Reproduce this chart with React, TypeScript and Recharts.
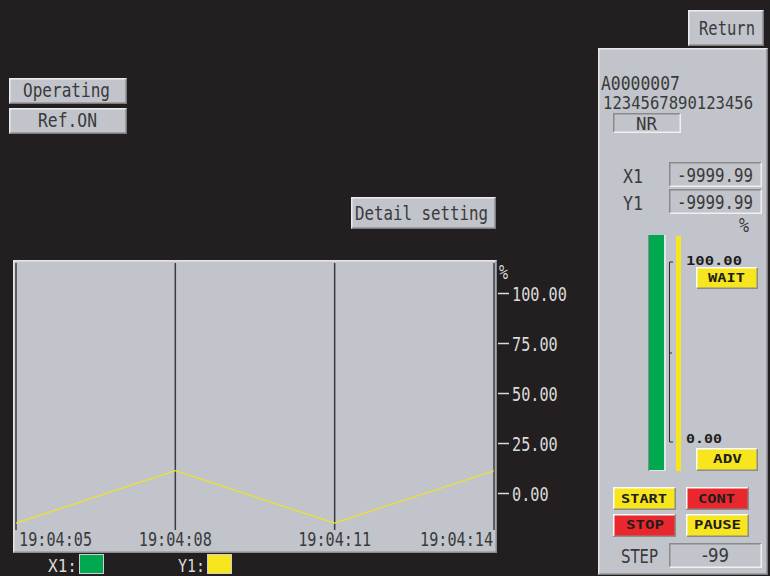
import React from 'react';
import { LineChart, Line, XAxis, YAxis, CartesianGrid } from 'recharts';

// trend data (seconds after 19:04:00)
const seconds = [5, 8, 11, 14];
const timeLabels = ['19:04:05', '19:04:08', '19:04:11', '19:04:14'];
const y1Values = [-14.8, 11.4, -14.8, 11.4];
const yTicks = [0, 25, 50, 75, 100];
const yTickLabels = ['0.00', '25.00', '50.00', '75.00', '100.00'];

const data = seconds.map((s, i) => ({ s, y1: y1Values[i] }));

const MONO = '"DejaVu Sans Mono", monospace';
const SANS = '"DejaVu Sans", sans-serif';
const BG = '#231f20';
const PANEL = '#c1c4cb';
const INK = '#3a3a3a';
const LIGHT = '#dadada';
const GREEN = '#00a84f';
const YELLOW = '#f7e51e';
const RED = '#e8282c';

function Txt({ x, y, w, size = 20, anchor = 'start', fill = INK, bold = false, family = MONO, children }: any) {
  return (
    <text
      x={x}
      y={y}
      fontSize={size}
      fontFamily={family}
      fontWeight={bold ? 700 : 400}
      fill={fill}
      textAnchor={anchor}
      textLength={w}
      lengthAdjust="spacingAndGlyphs"
    >
      {children}
    </text>
  );
}

function Raised({ x, y, w, h, fill = PANEL, hi = '#ececec', lo = '#7c7c7c' }: any) {
  return (
    <g>
      <rect x={x} y={y} width={w} height={h} fill={fill} />
      <path d={`M${x + 0.75} ${y + h - 0.75} V${y + 0.75} H${x + w - 0.75}`} stroke={hi} strokeWidth={1.5} fill="none" />
      <path d={`M${x + w - 0.75} ${y + 0.75} V${y + h - 0.75} H${x + 0.75}`} stroke={lo} strokeWidth={1.5} fill="none" />
    </g>
  );
}

function Sunken({ x, y, w, h, fill = PANEL }: any) {
  return <Raised x={x} y={y} w={w} h={h} fill={fill} hi="#8a8a8a" lo="#f0f0f0" />;
}

function TimeTick(props: any) {
  const { x, y, payload } = props;
  const i = seconds.indexOf(payload.value);
  const anchor = i === 0 ? 'start' : i === seconds.length - 1 ? 'end' : 'middle';
  const tx = i === 0 ? x + 3 : i === seconds.length - 1 ? x - 1 : x;
  return (
    <g>
      <line x1={x} x2={x} y1={y} y2={y + 3} stroke="#3c3c3c" strokeWidth={1.5} />
      <Txt x={tx} y={y + 19} w={73} anchor={anchor}>{timeLabels[i]}</Txt>
    </g>
  );
}

function PctTick(props: any) {
  const { x, y, payload } = props;
  const label = yTickLabels[yTicks.indexOf(payload.value)];
  return (
    <g>
      <line x1={x + 4} x2={x + 15} y1={y} y2={y} stroke={LIGHT} strokeWidth={1.5} />
      <Txt x={x + 18} y={y + 7.5} w={label.length * 9.15} fill={LIGHT}>{label}</Txt>
    </g>
  );
}

function Screen() {
  return (
    <svg width={770} height={576} style={{ position: 'absolute', left: 0, top: 0 }}>
      <rect x={0} y={0} width={770} height={576} fill={BG} />

      {/* top-left status buttons */}
      <Raised x={9} y={78} w={118} h={26} />
      <Txt x={23} y={97} w={87}>Operating</Txt>
      <Raised x={9} y={108} w={118} h={26} />
      <Txt x={38} y={127} w={59}>Ref.ON</Txt>

      <Raised x={351} y={197} w={145} h={32} />
      <Txt x={355} y={220} w={133}>Detail setting</Txt>

      <Raised x={688} y={10} w={76} h={36} />
      <Txt x={699} y={35} w={56}>Return</Txt>

      {/* trend panel */}
      <Raised x={13} y={260} w={484} h={293} hi="#e6e6e6" lo="#8c8c8c" />
      <Txt x={499} y={279} w={9} fill={LIGHT}>%</Txt>

      {/* legend */}
      <Txt x={48} y={572} w={29} size={18} fill={LIGHT}>X1:</Txt>
      <rect x={79.5} y={554.5} width={24} height={19} fill={GREEN} stroke="#cfcfcf" />
      <Txt x={178} y={572} w={27} size={18} fill={LIGHT}>Y1:</Txt>
      <rect x={207.5} y={554.5} width={24} height={19} fill={YELLOW} stroke="#cfcfcf" />

      {/* right panel */}
      <Raised x={598} y={48} w={170} h={527} hi="#e6e6e6" lo="#7c7c7c" />
      <Txt x={601} y={90} w={79} size={19}>A0000007</Txt>
      <Txt x={603} y={108.5} w={150} size={18}>1234567890123456</Txt>
      <Sunken x={613} y={113} w={68} h={20} />
      <Txt x={636} y={130} w={21} size={18}>NR</Txt>

      <Txt x={623} y={183} w={20}>X1</Txt>
      <Sunken x={669} y={162} w={93} h={25} />
      <Txt x={677} y={182} w={76} size={19}>-9999.99</Txt>
      <Txt x={623} y={210} w={20}>Y1</Txt>
      <Sunken x={669} y={189} w={93} h={25} />
      <Txt x={677} y={209} w={76} size={19}>-9999.99</Txt>
      <Txt x={739} y={232} w={10}>%</Txt>

      {/* bar meters */}
      <rect x={648} y={235} width={18} height={236} fill="#e4e4e4" />
      <rect x={648} y={235} width={16} height={235} fill={GREEN} />
      <rect x={648} y={235} width={1} height={236} fill="#8a8a8a" />
      <rect x={676} y={236} width={5} height={235} fill={YELLOW} />
      <path d="M673 262 H669.5 V442 H673 M669.5 353 H672" stroke="#2a2a2a" strokeWidth={1} fill="none" />
      <Txt x={686} y={265} w={56} size={12.5} bold fill="#1e1e1e">100.00</Txt>
      <Txt x={686} y={443} w={36} size={12.5} bold fill="#1e1e1e">0.00</Txt>

      <Raised x={696} y={267} w={62} h={22} fill={YELLOW} hi="#fbfbfb" lo="#8c8c8c" />
      <Txt x={708} y={282} w={37} size={12.5} bold fill="#1e1e1e">WAIT</Txt>
      <Raised x={696} y={448} w={62} h={23} fill={YELLOW} hi="#fbfbfb" lo="#8c8c8c" />
      <Txt x={713} y={463} w={29} size={12.5} bold fill="#1e1e1e">ADV</Txt>

      <Raised x={613} y={487} w={63} h={23} fill={YELLOW} hi="#fbfbfb" lo="#8c8c8c" />
      <Txt x={621} y={503} w={46} size={12.5} bold fill="#1e1e1e">START</Txt>
      <Raised x={686} y={487} w={63} h={23} fill={RED} hi="#fbfbfb" lo="#8c8c8c" />
      <Txt x={698} y={503} w={37} size={12.5} bold fill="#1e1e1e">CONT</Txt>
      <Raised x={613} y={514} w={63} h={23} fill={RED} hi="#fbfbfb" lo="#8c8c8c" />
      <Txt x={626} y={529} w={38} size={12.5} bold fill="#1e1e1e">STOP</Txt>
      <Raised x={686} y={514} w={63} h={23} fill={YELLOW} hi="#fbfbfb" lo="#8c8c8c" />
      <Txt x={694} y={529} w={47} size={12.5} bold fill="#1e1e1e">PAUSE</Txt>

      <Txt x={621} y={563} w={37} family={SANS}>STEP</Txt>
      <Sunken x={669} y={543} w={93} h={25} />
      <Txt x={702} y={562} w={27} size={19} family={SANS}>-99</Txt>
    </svg>
  );
}

export default function App() {
  return (
    <div style={{ position: 'fixed', left: 0, top: 0, width: 770, height: 576, background: BG, overflow: 'hidden' }}>
      <Screen />
      <div style={{ position: 'absolute', left: 0, top: 0 }}>
        <LineChart width={770} height={576} data={data} margin={{ top: 263, right: 216, bottom: 29, left: 16 }}>
          <CartesianGrid horizontal={false} stroke="#3c3c3c" strokeWidth={1.5} />
          <XAxis
            dataKey="s"
            type="number"
            domain={[5, 14]}
            ticks={seconds}
            interval={0}
            height={20}
            axisLine={false}
            tickLine={false}
            tickSize={0}
            tickMargin={0}
            tick={TimeTick}
          />
          <YAxis
            orientation="right"
            domain={[-16.75, 115.25]}
            ticks={yTicks}
            interval={0}
            allowDataOverflow
            width={60}
            axisLine={false}
            tickLine={false}
            tickSize={0}
            tickMargin={0}
            tick={PctTick}
          />
          <Line type="linear" dataKey="y1" stroke="#f2e227" strokeWidth={1.2} dot={false} isAnimationActive={false} />
        </LineChart>
      </div>
    </div>
  );
}
